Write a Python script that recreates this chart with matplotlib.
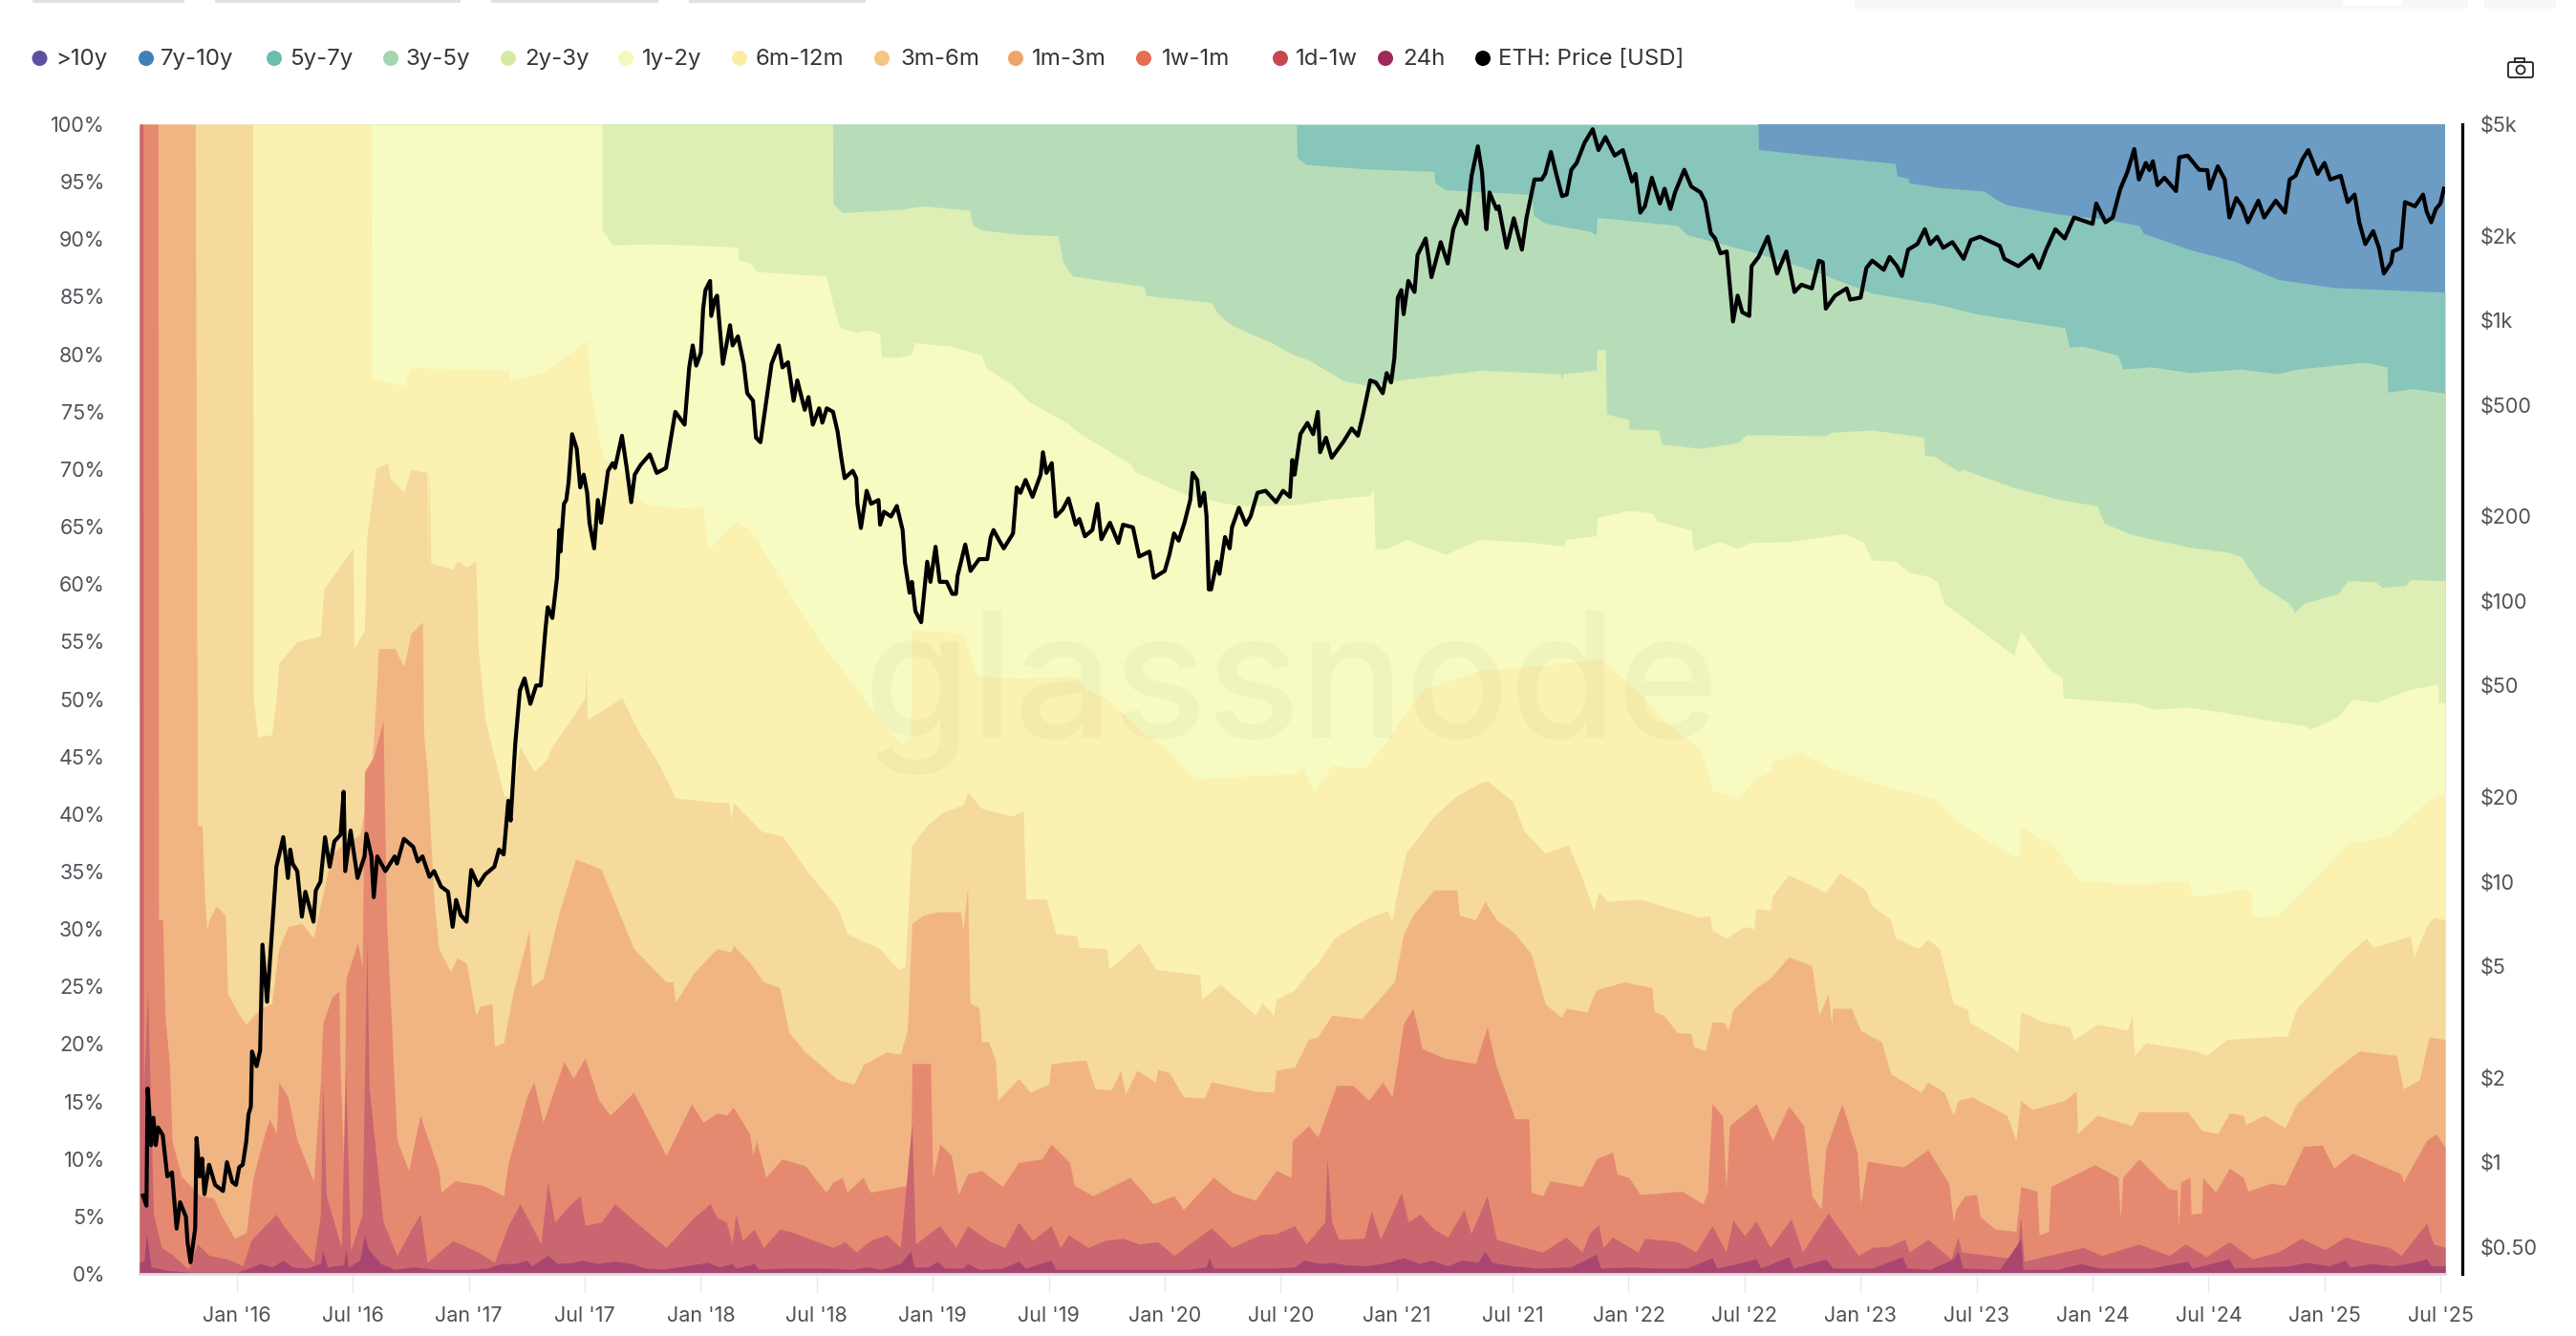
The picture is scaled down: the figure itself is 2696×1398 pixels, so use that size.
import numpy as np
import matplotlib
matplotlib.use("Agg")
import matplotlib.pyplot as plt
from matplotlib.patches import Circle, Rectangle, FancyBboxPatch

plt.rcParams['font.family'] = ['Inter', 'DejaVu Sans']

# ---------- labels ----------
legend_labels = ['>10y','7y-10y','5y-7y','3y-5y','2y-3y','1y-2y','6m-12m','3m-6m','1m-3m','1w-1m','1d-1w','24h','ETH: Price [USD]']
legend_colors = ['#5E4FA2','#3F80B8','#6BBDAE','#A5D6AD','#D5EBA4','#F4F9BB','#FBEDA5','#F5C57F','#EFA46B','#E36F50','#C9474F','#9E2A5B','#000000']
x_ticks = [2016 + 0.5*i for i in range(20)]
x_labels = ["Jan '16","Jul '16","Jan '17","Jul '17","Jan '18","Jul '18","Jan '19","Jul '19","Jan '20","Jul '20",
            "Jan '21","Jul '21","Jan '22","Jul '22","Jan '23","Jul '23","Jan '24","Jul '24","Jan '25","Jul '25"]
pct_ticks = list(range(0, 105, 5))
price_ticks = [0.5,1,2,5,10,20,50,100,200,500,1000,2000,5000]
price_labels = ['$0.50','$1','$2','$5','$10','$20','$50','$100','$200','$500','$1k','$2k','$5k']

# ---------- upper edge of each age band, cumulative % of supply (decimal year, %) ----------
top_7y10y = [(2022.56,100),(2025.52,100)]
top_5y7y = [(2022.56,97.8),(2022.79,97.3),(2023.05,96.8),(2023.15,96.6),(2023.157,95.5),(2023.205,95.3),(2023.21,94.9),(2023.34,94.5),(2023.53,94.2),(2023.59,93.4),(2023.63,93),(2023.85,92.2),(2024.07,91.7),(2024.2,91.2),(2024.22,90.5),(2024.42,89.1),(2024.61,88.1),(2024.8,86.5),(2025.04,85.8),(2025.28,85.6),(2025.52,85.4)]
top_5y7y = [(2015.58,100),(2022.558,100)] + top_5y7y
top_3y5y = [(2015.58,100),(2020.568,100),(2020.57,97.1),(2020.61,96.5),(2020.88,96.1),(2021.16,95.9),(2021.165,94.9),(2021.21,94.3),(2021.58,93.9),(2021.59,92.1),(2021.64,91.4),(2021.83,90.7),(2021.86,90.4),(2021.864,91.9),(2022.21,91.2),(2022.25,90.4),(2022.55,88.8),(2022.79,87.3),(2023.05,85.3),(2023.34,84.3),(2023.5,83.5),(2023.88,82.3),(2023.9,80.6),(2023.96,80.7),(2024.11,79.9),(2024.13,78.7),(2024.25,78.9),(2024.42,78.4),(2024.64,78.7),(2024.8,78.3),(2024.88,78.7),(2025.17,79.3),(2025.27,78.9),(2025.272,76.7),(2025.38,77),(2025.52,76.6)]
top_2y3y = [(2015.58,100),(2018.568,100),(2018.57,93.1),(2018.61,92.3),(2018.86,92.6),(2018.96,92.9),(2019.16,92.5),(2019.17,91.3),(2019.21,90.8),(2019.39,90.4),(2019.54,90.3),(2019.56,88.1),(2019.6,86.8),(2019.91,85.9),(2019.92,85.1),(2020.2,84.5),(2020.23,83.5),(2020.29,82.5),(2020.45,81.1),(2020.56,79.9),(2020.62,79.5),(2020.77,77.7),(2020.89,77.2),(2020.99,77.7),(2021.36,78.6),(2021.705,78.3),(2021.71,77.8),(2021.72,78.3),(2021.86,78.6),(2021.864,80.4),(2021.9,80.4),(2021.904,74.8),(2022.0,74.3),(2022.002,73.5),(2022.13,73.4),(2022.14,72.2),(2022.31,71.8),(2022.47,72.3),(2022.51,73),(2022.85,72.9),(2022.87,73.2),(2023.05,73.4),(2023.27,72.8),(2023.277,71.2),(2023.32,71.1),(2023.42,69.8),(2023.44,70),(2023.66,68.4),(2023.85,67.4),(2024.02,66.8),(2024.05,65.3),(2024.17,64.3),(2024.42,63.2),(2024.58,62.8),(2024.64,62.4),(2024.72,60),(2024.85,58.3),(2024.87,57.5),(2024.91,58.3),(2025.06,59.2),(2025.1,60.3),(2025.22,60.2),(2025.25,59.7),(2025.35,59.9),(2025.37,60.4),(2025.52,60.3)]
top_1y2y = [(2015.58,100),(2017.573,100),(2017.575,90.85),(2017.62,89.5),(2017.8,89.6),(2018.07,89.4),(2018.16,89.3),(2018.163,88.2),(2018.21,88),(2018.24,87.2),(2018.38,87),(2018.54,86.8),(2018.57,84.3),(2018.6,82.3),(2018.67,81.9),(2018.72,82.1),(2018.77,81.8),(2018.78,79.8),(2018.845,79.7),(2018.91,80),(2018.92,81),(2019.08,80.7),(2019.21,79.9),(2019.23,78.8),(2019.34,77.4),(2019.42,75.8),(2019.58,74),(2019.64,73),(2019.85,70.5),(2019.87,69.8),(2020.1,67.7),(2020.32,66.8),(2020.56,66.9),(2020.72,67.4),(2020.88,67.7),(2020.9,68.2),(2020.907,63.1),(2020.96,63.1),(2021.04,63.9),(2021.21,62.6),(2021.36,63.9),(2021.6,63.6),(2021.72,63.3),(2021.73,63.9),(2021.86,64.2),(2021.864,65.8),(2022,66.4),(2022.1,66.2),(2022.12,65.5),(2022.27,64.7),(2022.28,62.9),(2022.39,63.7),(2022.47,63.1),(2022.52,63.6),(2022.69,63.7),(2022.93,64.4),(2023.01,63.7),(2023.05,62.1),(2023.15,62),(2023.21,61),(2023.29,60.7),(2023.33,60.2),(2023.36,58.3),(2023.43,57.3),(2023.66,53.8),(2023.69,55.9),(2023.82,52.5),(2023.87,51.9),(2023.873,50.1),(2024.01,49.9),(2024.2,49.6),(2024.26,49.1),(2024.41,49.3),(2024.58,48.8),(2024.72,48.3),(2024.91,47.7),(2024.94,47.4),(2025.06,48.5),(2025.12,50),(2025.22,49.7),(2025.36,50.8),(2025.49,51.3),(2025.492,49.7),(2025.52,49.7)]
top_6m12m = [(2015.58,100),(2016.578,100),(2016.58,77.9),(2016.72,77.2),(2016.75,78.8),(2017.17,78.6),(2017.175,77.7),(2017.33,78.5),(2017.51,81.2),(2017.52,77.4),(2017.56,72.7),(2017.58,71.1),(2017.68,69.3),(2017.71,67.9),(2017.77,66.8),(2017.97,66.6),(2018.01,66.8),(2018.03,62.8),(2018.066,63.7),(2018.15,65.5),(2018.21,64.8),(2018.35,60.2),(2018.51,55.1),(2018.67,50.9),(2018.78,48),(2018.87,46),(2018.905,47),(2018.91,56),(2019.13,55.7),(2019.19,52),(2019.4,51.8),(2019.6,52),(2019.65,51),(2019.75,50),(2019.91,47),(2019.99,46),(2020.13,43),(2020.27,43.2),(2020.56,43.5),(2020.6,44),(2020.64,41.8),(2020.72,44.2),(2020.86,44),(2020.93,45.6),(2021.02,48.3),(2021.12,50.9),(2021.37,52.5),(2021.68,53),(2021.88,53.5),(2022.04,50.6),(2022.15,48.2),(2022.31,45.6),(2022.36,42.1),(2022.47,41.3),(2022.55,43.2),(2022.61,43.7),(2022.62,44.6),(2022.74,45.3),(2022.87,44),(2023.05,42.7),(2023.32,41.3),(2023.42,39.3),(2023.66,36.3),(2023.685,36.3),(2023.69,38.9),(2023.83,37.3),(2023.94,34.2),(2024.17,33.9),(2024.41,34.2),(2024.43,32.8),(2024.64,33.4),(2024.68,33.2),(2024.69,31),(2024.8,31.2),(2024.96,34.4),(2025.1,37.4),(2025.28,38.1),(2025.44,41.1),(2025.52,41.8)]
top_3m6m = [(2015.58,100),(2016.068,100),(2016.07,50.1),(2016.09,46.7),(2016.15,46.9),(2016.17,50.1),(2016.18,53.1),(2016.26,55),(2016.36,55.5),(2016.375,59.6),(2016.5,63.1),(2016.505,54.4),(2016.55,56),(2016.56,64),(2016.6,70.1),(2016.65,70.5),(2016.66,69.2),(2016.72,68),(2016.75,70),(2016.82,69.7),(2016.823,61.3),(2016.827,70.1),(2016.836,61.8),(2016.93,61.3),(2016.95,62),(2016.99,61.5),(2017.03,62),(2017.04,54.4),(2017.07,48.2),(2017.15,41.6),(2017.19,41.5),(2017.22,45.9),(2017.28,43.7),(2017.33,44.6),(2017.36,45.9),(2017.46,48.8),(2017.5,50.1),(2017.505,52.5),(2017.51,48.2),(2017.66,50.1),(2017.73,47.2),(2017.82,44.3),(2017.89,41.4),(2018.07,41),(2018.12,41),(2018.13,39.5),(2018.14,41),(2018.26,38.5),(2018.35,38.1),(2018.46,35),(2018.59,31.8),(2018.63,29.6),(2018.77,28.3),(2018.85,26.5),(2018.88,26.7),(2018.91,37.3),(2018.97,38.9),(2019.04,40.1),(2019.13,40.8),(2019.15,41.9),(2019.21,40.5),(2019.34,39.8),(2019.39,40.3),(2019.4,32.6),(2019.49,32.6),(2019.53,29.6),(2019.62,29.4),(2019.63,28.4),(2019.75,28.3),(2019.76,26.5),(2019.89,28.8),(2019.96,26.5),(2020.15,26),(2020.16,23.9),(2020.24,25.2),(2020.39,22.5),(2020.42,23.6),(2020.47,22.5),(2020.48,23.9),(2020.56,24.7),(2020.62,26.3),(2020.66,27),(2020.73,29.2),(2020.86,30.8),(2020.96,31.6),(2020.98,30.7),(2021.0,33),(2021.04,36.6),(2021.16,39.8),(2021.26,41.6),(2021.35,42.6),(2021.39,42.9),(2021.5,41.1),(2021.55,38.5),(2021.64,36.6),(2021.74,37.3),(2021.8,34.4),(2021.85,31.5),(2021.87,33.2),(2021.91,32.4),(2022.05,32.6),(2022.31,31),(2022.35,31.2),(2022.36,29.9),(2022.42,29.2),(2022.5,30.2),(2022.54,30),(2022.55,31.8),(2022.61,31.6),(2022.62,32.9),(2022.69,34.7),(2022.85,33.2),(2022.91,34.9),(2023.02,33.4),(2023.05,32),(2023.13,30.8),(2023.15,29.2),(2023.25,28.3),(2023.29,29.1),(2023.34,28.3),(2023.4,23.5),(2023.46,23),(2023.47,21.9),(2023.66,19.6),(2023.68,19.3),(2023.69,22.8),(2023.79,21.9),(2023.9,21.5),(2023.92,20.4),(2024.02,21.7),(2024.15,21.2),(2024.17,22.5),(2024.18,19),(2024.23,20.1),(2024.45,19.4),(2024.49,19),(2024.58,20.4),(2024.84,20.7),(2024.88,23.1),(2025.1,27.8),(2025.18,29.2),(2025.21,28.4),(2025.29,28.9),(2025.37,29.4),(2025.385,27.6),(2025.44,30.2),(2025.47,31),(2025.52,30.8)]
top_1m3m = [(2015.58,100),(2015.82,100),(2015.83,39),(2015.85,39),(2015.86,33.1),(2015.87,29.9),(2015.88,30.8),(2015.91,32),(2015.95,31.2),(2015.96,24.4),(2016.01,22.5),(2016.04,21.7),(2016.1,23.1),(2016.15,23.5),(2016.18,28.3),(2016.22,30.2),(2016.28,30.5),(2016.33,29.2),(2016.36,32.1),(2016.41,36.6),(2016.45,37.2),(2016.53,38.2),(2016.58,43.7),(2016.6,50.1),(2016.61,54.4),(2016.68,54.4),(2016.72,52.8),(2016.75,55.7),(2016.8,56.7),(2016.805,46.9),(2016.82,43.7),(2016.85,32.4),(2016.87,28.3),(2016.92,26.3),(2016.95,27.5),(2016.99,27),(2017.03,22.5),(2017.05,23.3),(2017.1,23.5),(2017.11,19.8),(2017.15,20.1),(2017.19,24.4),(2017.24,28.3),(2017.26,30),(2017.27,25),(2017.32,25.7),(2017.39,31.5),(2017.46,36.1),(2017.57,35.2),(2017.71,28.3),(2017.85,25.4),(2017.88,25.4),(2017.89,23.6),(2017.97,26.2),(2018.07,28.3),(2018.13,28),(2018.14,28.6),(2018.21,27.1),(2018.27,25.4),(2018.34,24.9),(2018.38,21),(2018.45,19.3),(2018.59,16.9),(2018.66,16.5),(2018.7,18.2),(2018.8,19.3),(2018.86,19.1),(2018.89,21.2),(2018.91,30.5),(2018.96,31.2),(2019.02,31.5),(2019.12,31.5),(2019.13,29.9),(2019.15,33.6),(2019.16,23.6),(2019.2,23.1),(2019.21,20.2),(2019.24,20.2),(2019.27,18.6),(2019.28,15.1),(2019.37,17),(2019.42,15.8),(2019.5,16.5),(2019.51,18.3),(2019.66,18.6),(2019.7,16.1),(2019.77,16),(2019.81,17.7),(2019.83,15.6),(2019.88,17.7),(2019.96,16.7),(2019.97,17.8),(2020.02,17.5),(2020.08,15.4),(2020.17,15.3),(2020.2,16.7),(2020.39,15.9),(2020.47,15.8),(2020.48,17.7),(2020.56,18),(2020.62,20.4),(2020.66,20.6),(2020.72,22.5),(2020.85,22.2),(2020.91,23.6),(2020.99,25.4),(2021.03,29.6),(2021.07,31.2),(2021.16,33.4),(2021.26,33.4),(2021.27,31.2),(2021.34,30.8),(2021.38,32.4),(2021.43,30.8),(2021.51,29.6),(2021.58,27.8),(2021.64,23.5),(2021.71,22.3),(2021.73,23.1),(2021.82,22.8),(2021.86,24.7),(2021.98,25.4),(2022.1,24.9),(2022.11,22.8),(2022.15,22.5),(2022.21,21),(2022.27,20.9),(2022.28,19.8),(2022.33,19.4),(2022.36,21.9),(2022.41,21.9),(2022.43,21.2),(2022.45,23),(2022.55,24.9),(2022.61,25.7),(2022.69,27.6),(2022.79,26.8),(2022.82,22.5),(2022.86,24.3),(2022.875,21.7),(2022.88,23.1),(2022.96,23.1),(2023.0,21.2),(2023.05,20.6),(2023.09,20.2),(2023.13,17.4),(2023.18,16.8),(2023.26,15.8),(2023.29,16.7),(2023.36,15.8),(2023.4,13.8),(2023.42,15.1),(2023.48,15.4),(2023.63,13.8),(2023.67,11.6),(2023.69,15.1),(2023.74,14.3),(2023.88,15.1),(2023.93,15.9),(2023.935,12.2),(2024.02,13.8),(2024.17,12.9),(2024.2,14.1),(2024.41,14.1),(2024.47,12.5),(2024.54,12.2),(2024.59,14),(2024.65,13.8),(2024.66,13),(2024.74,13.8),(2024.83,12.7),(2024.88,14.8),(2025.04,17.7),(2025.15,19.4),(2025.31,19),(2025.34,16.1),(2025.41,16.9),(2025.45,20.6),(2025.52,20.4)]
top_1w1m = [(2015.58,100),(2015.66,100),(2015.662,30.8),(2015.68,30.8),(2015.69,22.5),(2015.71,18),(2015.72,11.6),(2015.76,8.5),(2015.84,6.8),(2015.9,6.6),(2015.93,5.2),(2015.99,3.1),(2016.04,3.6),(2016.07,8.4),(2016.12,12.2),(2016.14,13.5),(2016.17,12.2),(2016.18,16.7),(2016.22,15.4),(2016.26,11.6),(2016.33,8.1),(2016.36,16.7),(2016.37,21.8),(2016.41,24.1),(2016.44,24.6),(2016.445,18),(2016.46,9.7),(2016.47,25.7),(2016.52,28.8),(2016.54,26.7),(2016.55,43.7),(2016.59,45),(2016.63,48.2),(2016.645,30.8),(2016.66,24.4),(2016.69,11.6),(2016.74,9),(2016.79,13.8),(2016.87,9),(2016.88,7.1),(2016.94,8.1),(2017.06,7.7),(2017.15,6.8),(2017.17,9.7),(2017.25,15.4),(2017.28,16.7),(2017.32,13.2),(2017.41,18.5),(2017.45,17),(2017.5,18.8),(2017.56,15.1),(2017.61,13.8),(2017.71,15.8),(2017.85,10.3),(2017.96,14.8),(2018.01,13.2),(2018.07,14),(2018.11,13.8),(2018.14,14.5),(2018.21,12.2),(2018.225,10.3),(2018.24,11.6),(2018.28,8.4),(2018.35,10),(2018.45,9.4),(2018.54,7.1),(2018.57,8),(2018.61,8.4),(2018.63,7.1),(2018.7,8.4),(2018.73,7.1),(2018.89,7.7),(2018.905,7.7),(2018.91,18.3),(2018.99,18.3),(2019.0,8.4),(2019.03,11.3),(2019.08,10.3),(2019.11,6.9),(2019.15,8.7),(2019.21,9),(2019.3,7.6),(2019.37,9.7),(2019.47,10),(2019.51,11.3),(2019.59,9.7),(2019.61,7.7),(2019.69,6.8),(2019.85,8.4),(2019.95,6.1),(2020.04,6.8),(2020.08,5.6),(2020.21,8.4),(2020.29,7.1),(2020.39,6.4),(2020.48,9),(2020.545,8.4),(2020.55,11.6),(2020.62,12.9),(2020.66,11.9),(2020.74,16.4),(2020.81,16.4),(2020.88,15.1),(2020.94,16.7),(2020.98,15.4),(2021.03,21.8),(2021.07,23.1),(2021.11,19.6),(2021.2,18.8),(2021.34,18.3),(2021.39,21.5),(2021.43,18),(2021.51,13.5),(2021.57,13.5),(2021.58,7.1),(2021.63,6.8),(2021.66,8.1),(2021.8,7.6),(2021.86,10),(2021.93,10.6),(2021.95,8.7),(2022.0,8.4),(2022.05,6.9),(2022.23,7.2),(2022.32,6.1),(2022.34,7.1),(2022.36,14.8),(2022.405,13.7),(2022.42,7.4),(2022.435,12.9),(2022.55,14.8),(2022.62,11.6),(2022.69,14.6),(2022.755,12.9),(2022.79,6.8),(2022.83,5.6),(2022.85,10.9),(2022.92,14.8),(2022.985,10.6),(2023.0,6.1),(2023.03,9.8),(2023.185,9.3),(2023.29,10.8),(2023.38,7.9),(2023.4,4.5),(2023.41,5.6),(2023.45,6.8),(2023.5,6.9),(2023.515,5),(2023.58,3.9),(2023.67,3.7),(2023.69,7.6),(2023.76,7.2),(2023.77,3.4),(2023.81,3.7),(2023.82,7.6),(2024.01,9.5),(2024.11,8.4),(2024.12,4.8),(2024.13,8.4),(2024.2,10),(2024.33,7.4),(2024.365,7.3),(2024.37,3.9),(2024.38,8),(2024.42,8.4),(2024.425,5.2),(2024.47,5.3),(2024.475,8.4),(2024.53,7.1),(2024.59,9.2),(2024.65,8.4),(2024.67,7.2),(2024.77,7.9),(2024.83,7.7),(2024.91,11.1),(2024.99,11.2),(2025.04,9.2),(2025.12,10.5),(2025.33,8.7),(2025.34,8),(2025.44,11.6),(2025.48,12.2),(2025.52,11)]
top_1d1w = [(2015.58,100),(2015.595,100),(2015.597,16),(2015.615,24.7),(2015.64,5.2),(2015.675,2.3),(2015.72,1.7),(2015.79,0.4),(2015.83,2.6),(2015.88,1.6),(2015.96,1.3),(2016.025,0.7),(2016.06,2.9),(2016.12,4.2),(2016.17,5.2),(2016.19,4.5),(2016.25,2.9),(2016.33,1),(2016.36,5.2),(2016.37,16.7),(2016.385,6.8),(2016.45,2.3),(2016.468,17.7),(2016.49,2),(2016.54,5.2),(2016.56,28.9),(2016.57,16.1),(2016.61,8.4),(2016.63,4.5),(2016.69,1.6),(2016.76,4.2),(2016.79,5.2),(2016.82,1),(2016.93,2.9),(2017.04,1.9),(2017.11,1),(2017.17,4.2),(2017.22,6.1),(2017.27,4.2),(2017.31,2.6),(2017.34,8),(2017.37,4.5),(2017.44,6.1),(2017.48,6.8),(2017.5,4.2),(2017.57,4.5),(2017.63,6.1),(2017.72,4.5),(2017.85,2.3),(2017.97,4.9),(2018.04,6.1),(2018.07,4.9),(2018.11,4.5),(2018.135,2.6),(2018.15,5.2),(2018.18,2.9),(2018.23,3.9),(2018.27,2.3),(2018.34,3.9),(2018.4,3.6),(2018.45,3.2),(2018.57,2.3),(2018.62,2.8),(2018.67,1.9),(2018.73,2.9),(2018.8,3.4),(2018.86,2.3),(2018.91,13.2),(2018.925,2.6),(2019.03,4.2),(2019.1,2.3),(2019.15,4.2),(2019.24,2.9),(2019.31,2.3),(2019.37,4.5),(2019.43,2.9),(2019.51,4.2),(2019.55,2.3),(2019.585,3.4),(2019.67,2.3),(2019.74,2.9),(2019.82,3.1),(2019.89,2.6),(2019.97,2.8),(2020.04,1.6),(2020.2,4),(2020.29,2.3),(2020.41,3.4),(2020.48,3.5),(2020.56,4.2),(2020.61,2.6),(2020.69,4.5),(2020.7,10.1),(2020.72,4.5),(2020.75,3),(2020.86,3.1),(2020.89,5.5),(2020.93,3),(2021.02,7.1),(2021.05,4.5),(2021.1,5.2),(2021.16,3.9),(2021.22,3.2),(2021.29,5.6),(2021.32,3.5),(2021.39,6.8),(2021.43,3),(2021.55,2.3),(2021.63,1.9),(2021.73,3.2),(2021.8,1.9),(2021.83,3.5),(2021.87,4.3),(2021.89,2.3),(2021.93,3.2),(2022.04,1.9),(2022.07,3.1),(2022.21,2.8),(2022.29,1.9),(2022.36,4.2),(2022.42,1.9),(2022.45,4.7),(2022.5,3.3),(2022.55,4.6),(2022.61,2.3),(2022.7,4.8),(2022.75,1.9),(2022.86,5.3),(2022.93,3.3),(2022.99,1.6),(2023.05,2.3),(2023.12,2.4),(2023.19,3),(2023.21,1.9),(2023.29,3),(2023.39,1.3),(2023.42,3.2),(2023.435,1.9),(2023.67,1.3),(2023.69,5),(2023.705,1.1),(2023.96,2.3),(2024.04,1.6),(2024.2,2.6),(2024.33,1.6),(2024.4,2.6),(2024.49,1.5),(2024.59,2.8),(2024.69,1.3),(2024.8,1.9),(2024.9,3.1),(2025.0,2.1),(2025.09,3.2),(2025.18,2.7),(2025.28,2.3),(2025.33,1.6),(2025.44,4.4),(2025.47,2.6),(2025.52,2.3)]
top_24h = [(2015.58,1.0),(2015.6,1.2),(2015.61,3.5),(2015.63,0.6),(2015.7,0.3),(2015.8,0.15),(2015.9,0.15),(2016.0,0.15),(2016.05,0.5),(2016.1,0.9),(2016.15,0.6),(2016.2,1.2),(2016.24,0.6),(2016.3,0.5),(2016.36,0.9),(2016.37,2),(2016.39,0.6),(2016.46,0.8),(2016.47,2.2),(2016.48,0.6),(2016.53,1.2),(2016.55,3.4),(2016.565,2.2),(2016.59,1.6),(2016.62,0.9),(2016.68,0.4),(2016.76,0.6),(2016.85,0.4),(2017.0,0.4),(2017.08,0.5),(2017.14,0.9),(2017.2,0.9),(2017.25,1.2),(2017.27,0.7),(2017.34,1.6),(2017.38,0.9),(2017.45,1.0),(2017.49,1.2),(2017.55,0.9),(2017.63,1.1),(2017.7,0.9),(2017.76,0.5),(2017.84,0.4),(2017.93,0.7),(2018.03,1.0),(2018.08,0.6),(2018.135,0.9),(2018.15,0.5),(2018.23,0.9),(2018.25,0.4),(2018.35,0.5),(2018.45,0.5),(2018.55,0.5),(2018.65,0.4),(2018.72,0.6),(2018.78,0.4),(2018.86,0.9),(2018.905,2.0),(2018.92,0.6),(2018.98,0.6),(2019.02,1.1),(2019.05,0.5),(2019.13,0.5),(2019.15,0.9),(2019.2,0.4),(2019.3,0.5),(2019.37,1.1),(2019.4,0.5),(2019.51,1.2),(2019.53,0.4),(2019.65,0.4),(2019.75,0.4),(2019.85,0.4),(2019.95,0.4),(2020.1,0.4),(2020.18,0.6),(2020.19,1.4),(2020.21,0.5),(2020.35,0.5),(2020.48,0.5),(2020.56,0.6),(2020.6,1.2),(2020.67,0.9),(2020.72,1.0),(2020.78,0.8),(2020.87,0.7),(2020.96,1.0),(2021.03,1.4),(2021.1,0.9),(2021.15,1.2),(2021.22,0.7),(2021.28,1.2),(2021.35,1.0),(2021.38,2.0),(2021.41,1.0),(2021.5,0.7),(2021.6,0.5),(2021.75,0.6),(2021.86,1.7),(2021.88,0.5),(2022.0,0.6),(2022.12,0.5),(2022.25,0.5),(2022.36,1.4),(2022.38,0.5),(2022.47,0.9),(2022.55,1.3),(2022.57,0.5),(2022.69,1.5),(2022.71,0.5),(2022.85,1.3),(2022.88,0.5),(2022.98,0.5),(2023.05,0.5),(2023.18,1.5),(2023.2,0.5),(2023.3,0.4),(2023.4,1.3),(2023.42,2.0),(2023.44,0.5),(2023.6,0.4),(2023.69,3),(2023.7,0.4),(2023.85,0.4),(2023.95,0.9),(2024.03,0.5),(2024.15,0.5),(2024.25,0.5),(2024.41,1.1),(2024.43,0.5),(2024.59,1.3),(2024.61,0.5),(2024.72,0.6),(2024.85,0.7),(2024.92,1.0),(2025.02,0.7),(2025.09,1.2),(2025.11,0.6),(2025.2,0.9),(2025.3,0.7),(2025.38,1.0),(2025.44,1.3),(2025.46,0.7),(2025.52,0.7)]

bands = [(top_7y10y,'#6C9BC4'),(top_5y7y,'#88C5BB'),(top_3y5y,'#B7DDB8'),(top_2y3y,'#DDEFB4'),(top_1y2y,'#F7FBC1'),
         (top_6m12m,'#FBF1B0'),(top_3m6m,'#F6D99C'),(top_1m3m,'#F1B584'),(top_1w1m,'#E58A70'),(top_1d1w,'#C9666F'),(top_24h,'#A94670')]

# ---------- ETH price, USD ----------
eth_price = [(2015.595,0.76),(2015.61,0.70),(2015.615,1.83),(2015.62,1.62),(2015.63,1.15),(2015.64,1.44),(2015.65,1.15),(2015.66,1.33),(2015.68,1.25),(2015.70,.89),(2015.72,.92),(2015.74,.58),(2015.755,.72),(2015.78,.64),(2015.787,.52),(2015.80,.44),(2015.82,.58),(2015.826,1.22),(2015.84,.89),(2015.85,1.03),(2015.86,.77),(2015.88,.98),(2015.906,.83),(2015.94,.79),(2015.957,1.0),(2015.98,.85),(2015.996,.83),(2016.01,.96),(2016.025,.98),(2016.04,1.18),(2016.05,1.48),(2016.06,1.58),(2016.065,2.48),(2016.085,2.2),(2016.1,2.5),(2016.11,5.96),(2016.13,3.73),(2016.145,5.6),(2016.17,11.3),(2016.2,14.4),(2016.22,10.3),(2016.23,13),(2016.24,11.6),(2016.26,10.9),(2016.28,7.5),(2016.295,9.2),(2016.33,7.2),(2016.34,9.3),(2016.36,10),(2016.38,14.4),(2016.4,11.3),(2016.42,13.9),(2016.447,14.7),(2016.46,20.9),(2016.467,10.9),(2016.49,15.2),(2016.52,10.3),(2016.55,12.3),(2016.558,14.8),(2016.58,12.3),(2016.59,8.8),(2016.605,12.3),(2016.64,10.9),(2016.68,12.3),(2016.69,11.6),(2016.72,14.2),(2016.76,13.3),(2016.78,11.8),(2016.80,12.3),(2016.83,10.4),(2016.85,10.9),(2016.88,9.6),(2016.91,9.2),(2016.93,6.9),(2016.945,8.6),(2016.965,7.6),(2016.99,7.2),(2017.01,11),(2017.04,9.7),(2017.07,10.6),(2017.11,11.3),(2017.13,13),(2017.15,12.5),(2017.17,19.4),(2017.18,16.5),(2017.2,31),(2017.22,48),(2017.24,53),(2017.265,43),(2017.29,50),(2017.31,50),(2017.33,79),(2017.34,95),(2017.36,87),(2017.38,121),(2017.39,179),(2017.395,150),(2017.41,222),(2017.42,229),(2017.43,265),(2017.445,393),(2017.465,349),(2017.48,254),(2017.495,282),(2017.51,243),(2017.52,190),(2017.54,154),(2017.556,229),(2017.57,190),(2017.6,291),(2017.62,310),(2017.63,298),(2017.66,388),(2017.68,300),(2017.7,225),(2017.715,282),(2017.74,305),(2017.78,333),(2017.81,286),(2017.85,298),(2017.89,472),(2017.93,425),(2017.95,680),(2017.965,814),(2017.98,690),(2018.0,765),(2018.01,1101),(2018.02,1282),(2018.04,1382),(2018.045,1037),(2018.06,1186),(2018.07,1225),(2018.095,700),(2018.126,961),(2018.137,814),(2018.16,877),(2018.185,700),(2018.2,550),(2018.225,517),(2018.238,382),(2018.257,368),(2018.28,502),(2018.305,700),(2018.336,814),(2018.352,680),(2018.376,709),(2018.4,517),(2018.416,611),(2018.448,480),(2018.464,533),(2018.483,425),(2018.51,486),(2018.524,432),(2018.543,486),(2018.57,472),(2018.59,400),(2018.607,318),(2018.62,274),(2018.655,291),(2018.67,274),(2018.675,222),(2018.69,182),(2018.715,247),(2018.734,222),(2018.766,229),(2018.773,187),(2018.79,208),(2018.82,200),(2018.845,218),(2018.87,179),(2018.88,137),(2018.9,107),(2018.91,117),(2018.925,92),(2018.95,84),(2018.966,114),(2018.976,138),(2018.99,117),(2019.012,156),(2019.03,117),(2019.06,117),(2019.084,106),(2019.1,106),(2019.107,123),(2019.13,147),(2019.14,159),(2019.163,128),(2019.2,141),(2019.235,141),(2019.25,169),(2019.262,179),(2019.287,164),(2019.306,154),(2019.346,174),(2019.362,254),(2019.378,243),(2019.4,270),(2019.43,235),(2019.465,282),(2019.475,339),(2019.49,286),(2019.513,310),(2019.53,200),(2019.56,212),(2019.585,232),(2019.616,187),(2019.632,196),(2019.656,170),(2019.688,179),(2019.71,222),(2019.727,166),(2019.764,190),(2019.8,161),(2019.82,187),(2019.863,183),(2019.89,144),(2019.934,150),(2019.953,121),(2020.0,128),(2020.02,146),(2020.04,174),(2020.06,164),(2020.085,190),(2020.11,229),(2020.12,286),(2020.14,270),(2020.152,218),(2020.17,243),(2020.18,202),(2020.19,110),(2020.2,110),(2020.225,138),(2020.236,125),(2020.26,169),(2020.28,154),(2020.29,183),(2020.32,215),(2020.35,187),(2020.37,200),(2020.4,243),(2020.435,247),(2020.48,225),(2020.51,247),(2020.54,235),(2020.55,318),(2020.56,282),(2020.585,393),(2020.615,431),(2020.64,393),(2020.66,472),(2020.67,339),(2020.695,382),(2020.72,324),(2020.77,369),(2020.806,412),(2020.833,388),(2020.854,458),(2020.886,611),(2020.91,601),(2020.94,550),(2020.957,649),(2020.976,601),(2020.99,733),(2021.005,1205),(2021.02,1282),(2021.03,1052),(2021.05,1382),(2021.077,1262),(2021.09,1710),(2021.125,1958),(2021.15,1426),(2021.19,1900),(2021.22,1594),(2021.244,2112),(2021.275,2455),(2021.3,2208),(2021.323,3275),(2021.35,4170),(2021.368,3373),(2021.38,2421),(2021.387,2112),(2021.4,2857),(2021.43,2494),(2021.44,2550),(2021.474,1814),(2021.505,2312),(2021.54,1787),(2021.56,2326),(2021.594,3177),(2021.625,3177),(2021.64,3326),(2021.665,3983),(2021.69,3275),(2021.713,2772),(2021.733,2808),(2021.753,3440),(2021.776,3640),(2021.81,4297),(2021.845,4800),(2021.87,4045),(2021.9,4500),(2021.94,3865),(2021.975,4045),(2022.015,3127),(2022.03,3326),(2022.05,2421),(2022.07,2550),(2022.1,3223),(2022.135,2610),(2022.155,2946),(2022.18,2494),(2022.2,2857),(2022.24,3440),(2022.27,3000),(2022.31,2857),(2022.33,2650),(2022.354,2047),(2022.373,1958),(2022.396,1733),(2022.423,1760),(2022.444,1135),(2022.45,991),(2022.47,1225),(2022.49,1069),(2022.52,1037),(2022.53,1560),(2022.56,1682),(2022.6,1986),(2022.64,1469),(2022.68,1760),(2022.715,1262),(2022.745,1340),(2022.79,1300),(2022.82,1632),(2022.837,1610),(2022.85,1101),(2022.89,1225),(2022.94,1300),(2022.955,1186),(2023.0,1205),(2023.025,1537),(2023.05,1632),(2023.07,1585),(2023.1,1514),(2023.125,1682),(2023.157,1560),(2023.178,1439),(2023.205,1787),(2023.245,1871),(2023.277,2112),(2023.3,1871),(2023.33,1986),(2023.356,1814),(2023.396,1900),(2023.444,1657),(2023.475,1931),(2023.515,1986),(2023.6,1842),(2023.62,1657),(2023.68,1560),(2023.74,1710),(2023.77,1537),(2023.8,1787),(2023.84,2112),(2023.88,1958),(2023.92,2326),(2024.0,2208),(2024.016,2610),(2024.056,2236),(2024.087,2326),(2024.12,2946),(2024.15,3373),(2024.18,4080),(2024.2,3177),(2024.23,3640),(2024.245,3430),(2024.26,3690),(2024.28,3034),(2024.31,3223),(2024.36,2890),(2024.374,3810),(2024.41,3865),(2024.46,3440),(2024.495,3430),(2024.505,2946),(2024.54,3540),(2024.57,3177),(2024.59,2326),(2024.62,2730),(2024.645,2550),(2024.67,2236),(2024.715,2670),(2024.74,2326),(2024.79,2670),(2024.83,2421),(2024.85,3177),(2024.875,3275),(2024.905,3750),(2024.93,4045),(2024.955,3590),(2024.97,3326),(2025.0,3640),(2025.025,3177),(2025.07,3275),(2025.1,2640),(2025.13,2808),(2025.15,2236),(2025.176,1871),(2025.21,2080),(2025.235,1814),(2025.256,1469),(2025.288,1610),(2025.295,1760),(2025.33,1814),(2025.347,2640),(2025.39,2550),(2025.425,2808),(2025.44,2450),(2025.46,2236),(2025.48,2494),(2025.5,2610),(2025.515,2946)]

# ---------- figure ----------
W, H = 2696, 1398
L, R, T, B = 146, 2559, 130, 1333
fig = plt.figure(figsize=(W/100, H/100), dpi=100, facecolor='white')
ax = fig.add_axes([L/W, 1-B/H, (R-L)/W, (B-T)/H])
ax.set_xlim(2015.58, 2025.52)
ax.set_ylim(0, 100)
ax.set_facecolor('white')

for pts, col in bands:
    xs, ys = zip(*pts)
    ax.fill_between(xs, 0, ys, color=col, linewidth=0, zorder=2)

TICK = '#4f5358'
FS = 15.5
ax.set_yticks(pct_ticks)
ax.set_yticklabels([f'{p}%' for p in pct_ticks], fontsize=FS, color=TICK)
ax.tick_params(axis='y', length=0, pad=26)
ax.set_xticks(x_ticks)
ax.set_xticklabels(x_labels, fontsize=FS, color=TICK)
ax.tick_params(axis='x', length=14.4, width=1, color='#e9eaec', pad=10)
for s in ['top', 'left', 'right']:
    ax.spines[s].set_visible(False)
ax.spines['bottom'].set_color('#dcdde0')
ax.spines['bottom'].set_linewidth(2)

ax.text(0.4995, 0.505, 'glassnode', transform=ax.transAxes, ha='center', va='center',
        fontsize=131, color='#7a7a7a', alpha=0.06, fontweight='medium', zorder=3,
        family=['Inter', 'DejaVu Sans'])

ax2 = ax.twinx()
ax2.set_yscale('log')
ax2.set_ylim(0.40, 5000)
ax2.minorticks_off()
ax2.set_yticks(price_ticks)
ax2.set_yticklabels(price_labels)
ax2.tick_params(axis='y', which='both', length=0, pad=13.7, labelsize=FS, labelcolor=TICK)
for lab in ax2.get_yticklabels():
    lab.set_fontsize(FS)
    lab.set_color(TICK)
for s in ['top', 'left', 'bottom']:
    ax2.spines[s].set_visible(False)
ax2.spines['right'].set_position(('outward', 13))
ax2.spines['right'].set_linewidth(2.3)
ax2.spines['right'].set_color('black')
px, py = zip(*eth_price)
ax2.plot(px, py, color='black', lw=3.0, solid_joinstyle='round', zorder=5)

# page chrome and legend, drawn in pixel coordinates
ov = fig.add_axes([0, 0, 1, 1], facecolor='none')
ov.set_xlim(0, W)
ov.set_ylim(H, 0)
ov.axis('off')
for x0, x1 in [(34,193),(225,482),(514,689),(721,906)]:
    ov.add_patch(Rectangle((x0, 0), x1-x0, 3, color='#e0e1e3', lw=0))
ov.add_patch(Rectangle((1941, 0), 642, 9, color='#f6f7f8', lw=0))
ov.add_patch(Rectangle((2452, 0), 62, 6, color='white', lw=0))
ov.add_patch(Rectangle((2600, 0), 75, 9, color='#f6f7f8', lw=0))

dot_x = [41.5,153,287,409,532,655,774,923,1063,1197,1340,1450,1552]
txt_x = [58,168,303,425,549,672,791,943,1080,1216,1356,1468,1568]
for dx, tx, lab, col in zip(dot_x, txt_x, legend_labels, legend_colors):
    ov.add_patch(Circle((dx, 61), 8, color=col, lw=0))
    ov.text(tx, 62, lab, fontsize=17.3, color='#33363a', va='center', ha='left')

# camera icon
ov.add_patch(FancyBboxPatch((2625, 65), 26, 16, boxstyle='round,pad=0,rounding_size=2', fc='none', ec='#222', lw=1.3))
ov.add_patch(Rectangle((2632, 61), 10, 4, fc='none', ec='#222', lw=1.3))
ov.add_patch(Circle((2638, 73), 4.5, fc='none', ec='#222', lw=1.3))

fig.savefig('out.png', dpi=100, facecolor='white')
